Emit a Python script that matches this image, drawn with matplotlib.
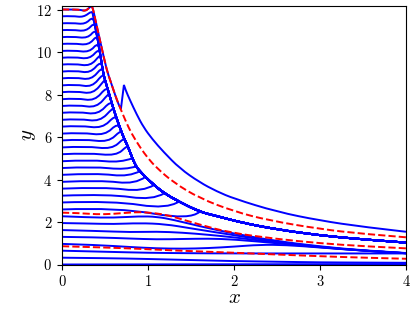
import numpy as np
import matplotlib.pyplot as plt
from matplotlib.path import Path
from matplotlib.patches import PathPatch

plt.rcParams['font.family'] = 'serif'
plt.rcParams['font.serif'] = ['cmr10']
plt.rcParams['mathtext.fontset'] = 'cm'
plt.rcParams['axes.formatter.use_mathtext'] = True

# envelope that the upper curves run into and then follow
env_x = [0.35, 0.36, 0.39, 0.42, 0.45, 0.48, 0.50, 0.55, 0.60, 0.65, 0.70, 0.73, 0.77,
         0.82, 0.85, 0.88, 0.97, 1.07, 1.19, 1.36, 1.60, 1.80, 2.10, 2.50, 3.00, 3.50, 4.00]
env_y = [12.0, 11.7, 11.1, 10.5, 9.75, 9.0, 8.68, 8.0, 7.3, 6.7, 6.15, 5.86, 5.52,
         4.98, 4.72, 4.5, 4.12, 3.74, 3.35, 2.96, 2.48, 2.28, 1.96, 1.65, 1.37, 1.18, 1.03]

# upper curves: start y0, small hump (x, dy), dip (x, dy), meeting point with envelope
upper = [
    # y0,   xh,   dyh,   xd,   dyd,   xj,    yj
    (11.68, 0.12, 0.02, 0.25, -0.05, 0.352, 11.95),
    (11.35, 0.12, 0.02, 0.27, -0.05, 0.361, 11.68),
    (11.03, 0.12, 0.02, 0.28, -0.06, 0.376, 11.38),
    (10.70, 0.12, 0.03, 0.30, -0.06, 0.391, 11.08),
    (10.38, 0.13, 0.03, 0.31, -0.06, 0.406, 10.78),
    (10.05, 0.13, 0.03, 0.32, -0.07, 0.421, 10.47),
    (9.73, 0.14, 0.04, 0.32, -0.07, 0.433, 10.17),
    (9.41, 0.14, 0.04, 0.33, -0.08, 0.445, 9.88),
    (9.08, 0.15, 0.05, 0.33, -0.08, 0.456, 9.60),
    (8.76, 0.15, 0.05, 0.34, -0.08, 0.468, 9.30),
    (8.43, 0.16, 0.05, 0.35, -0.09, 0.480, 9.00),
    (8.11, 0.16, 0.05, 0.36, -0.09, 0.499, 8.70),
    (7.78, 0.17, 0.05, 0.38, -0.09, 0.522, 8.38),
    (7.46, 0.18, 0.05, 0.40, -0.09, 0.546, 8.06),
    (7.14, 0.19, 0.05, 0.42, -0.09, 0.570, 7.72),
    (6.81, 0.20, 0.05, 0.44, -0.09, 0.594, 7.38),
    (6.49, 0.21, 0.05, 0.47, -0.09, 0.622, 7.04),
    (6.16, 0.23, 0.05, 0.50, -0.09, 0.652, 6.68),
    (5.84, 0.25, 0.06, 0.54, -0.09, 0.685, 6.32),
    (5.51, 0.28, 0.06, 0.58, -0.09, 0.721, 5.95),
    (5.19, 0.30, 0.06, 0.63, -0.08, 0.761, 5.60),
    (4.86, 0.33, 0.07, 0.68, -0.07, 0.818, 5.00),
    (4.54, 0.36, 0.07, 0.74, -0.09, 0.864, 4.62),
    (4.22, 0.40, 0.08, 0.78, -0.10, 0.910, 4.40),
    (3.89, 0.45, 0.08, 0.85, -0.12, 0.970, 4.12),
    (3.57, 0.50, 0.08, 0.94, -0.15, 1.070, 3.74),
    (3.24, 0.55, 0.08, 1.05, -0.22, 1.190, 3.35),
    (2.92, 0.60, 0.08, 1.22, -0.32, 1.360, 2.96),
    (2.59, 0.65, 0.10, 1.49, -0.50, 1.600, 2.48),
]
cusp_below = 5.0   # curves starting below this meet the envelope in a sharp cusp

# lower curves that never meet the envelope
lower_x = [
    [0, 4.0],
    [0, 0.5, 1.0, 1.5, 2.0, 2.5, 3.0, 3.5, 4.0],
    [0, 0.5, 1.0, 1.5, 2.0, 3.0, 4.0],
    [0, 0.4, 0.8, 1.1, 1.4, 1.7, 2.0, 2.3, 2.6, 3.0, 3.5, 4.0],
    [0, 0.4, 0.8, 1.1, 1.4, 1.7, 2.0, 2.5, 3.0, 3.5, 4.0],
    [0, 0.4, 0.8, 1.1, 1.4, 1.7, 2.0, 2.5, 3.0, 3.5, 4.0],
    [0, 0.3, 0.6, 0.9, 1.2, 1.5, 2.0, 2.5, 3.0, 3.5, 4.0],
    [0, 0.3, 0.6, 0.9, 1.1, 1.3, 1.6, 2.0, 2.5, 3.0, 3.5, 4.0],
]
lower_y = [
    [0.0, 0.02],
    [0.32, 0.30, 0.26, 0.21, 0.16, 0.13, 0.10, 0.09, 0.08],
    [0.65, 0.60, 0.55, 0.53, 0.52, 0.52, 0.52],
    [0.97, 0.92, 0.82, 0.76, 0.74, 0.77, 0.84, 0.93, 0.92, 0.80, 0.65, 0.53],
    [1.30, 1.28, 1.22, 1.18, 1.20, 1.22, 1.18, 1.00, 0.81, 0.65, 0.53],
    [1.62, 1.58, 1.52, 1.55, 1.50, 1.40, 1.28, 1.03, 0.82, 0.65, 0.53],
    [1.95, 1.93, 1.90, 1.95, 1.90, 1.70, 1.38, 1.06, 0.83, 0.65, 0.53],
    [2.27, 2.22, 2.20, 2.27, 2.25, 2.10, 1.80, 1.45, 1.10, 0.85, 0.66, 0.54],
]

# top curve: along the red curve down to the spike, then the outer branch
top_a_x = [0, 0.15, 0.22, 0.27, 0.31, 0.345, 0.365, 0.38, 0.45, 0.52, 0.56, 0.62, 0.66, 0.685]
top_a_y = [12.0, 12.0, 11.98, 11.93, 12.05, 12.2, 11.95, 11.66, 10.4, 9.15, 8.68, 7.95, 7.5, 7.32]
spike_x = [0.685, 0.72]
spike_y = [7.32, 8.45]
top_b_x = [0.72, 0.74, 0.79, 0.87, 0.95, 1.05, 1.18, 1.37, 1.6, 1.8, 2.0, 2.5, 3.0, 3.5, 4.0]
top_b_y = [8.45, 8.2, 7.74, 7.05, 6.45, 5.9, 5.3, 4.52, 3.87, 3.44, 3.1, 2.48, 2.07, 1.77, 1.54]

# red dashed curves
red1_x = [0, 0.15, 0.22, 0.27, 0.31, 0.345, 0.365, 0.38, 0.45, 0.52, 0.56, 0.62, 0.67, 0.74,
          0.81, 0.91, 1.0, 1.1, 1.3, 1.6, 2.0, 2.4, 3.0, 3.5, 4.0]
red1_y = [12.0, 12.0, 11.98, 11.93, 12.05, 12.2, 11.95, 11.66, 10.4, 9.15, 8.68, 7.95, 7.43, 6.75,
          6.15, 5.5, 5.0, 4.55, 3.85, 3.12, 2.5, 2.08, 1.67, 1.44, 1.28]
red2_x = [0, 0.2, 0.4, 0.6, 0.85, 1.0, 1.2, 1.4, 1.6, 1.95, 2.5, 3.0, 3.5, 4.0]
red2_y = [2.44, 2.42, 2.36, 2.38, 2.47, 2.45, 2.35, 2.12, 1.88, 1.50, 1.20, 1.00, 0.86, 0.76]
red3_x = [0, 0.5, 0.9, 1.3, 1.9, 2.5, 3.0, 3.5, 4.0]
red3_y = [0.86, 0.80, 0.74, 0.66, 0.57, 0.47, 0.39, 0.32, 0.27]


def curve(ax, segments, color='blue', ls='-', lw=1.4):
    # each segment is drawn as a smooth quadratic curve; segments meet at sharp corners
    verts, codes = [], []
    for si, (xs, ys) in enumerate(segments):
        pts = list(zip(xs, ys))
        if si == 0:
            verts.append(pts[0])
            codes.append(Path.MOVETO)
        n = len(pts)
        if n == 2:
            verts.append(pts[1])
            codes.append(Path.LINETO)
            continue
        for i in range(1, n - 1):
            if i < n - 2:
                end = ((pts[i][0] + pts[i + 1][0]) / 2, (pts[i][1] + pts[i + 1][1]) / 2)
            else:
                end = pts[n - 1]
            verts += [pts[i], end]
            codes += [Path.CURVE3, Path.CURVE3]
    ax.add_patch(PathPatch(Path(verts, codes), fc='none', ec=color, lw=lw, ls=ls))


fig = plt.figure(figsize=(4.15, 3.11), dpi=100)
ax = fig.add_axes([62 / 415, 1 - 264.5 / 311, 344 / 415, 258.5 / 311])

for xs, ys in zip(lower_x, lower_y):
    curve(ax, [(xs, ys)])

for y0, xh, dyh, xd, dyd, xj, yj in upper:
    tail_x = [xj] + [x for x in env_x if x > xj]
    tail_y = [yj] + [y for x, y in zip(env_x, env_y) if x > xj]
    if y0 < cusp_below:
        curve(ax, [([0, xh, xd, xj], [y0, y0 + dyh, y0 + dyd, yj]), (tail_x, tail_y)])
    else:
        curve(ax, [([0, xh, xd] + tail_x, [y0, y0 + dyh, y0 + dyd] + tail_y)])

curve(ax, [(top_a_x, top_a_y), (spike_x, spike_y), (top_b_x, top_b_y)])

curve(ax, [(red1_x, red1_y)], color='red', ls='--')
curve(ax, [(red2_x, red2_y)], color='red', ls='--')
curve(ax, [(red3_x, red3_y)], color='red', ls='--')

ax.set_xlim(0, 4)
ax.set_ylim(0, 12.165)
ax.set_xticks([0, 1, 2, 3, 4])
ax.set_yticks([0, 2, 4, 6, 8, 10, 12])
ax.tick_params(labelsize=10.5)
ax.set_xlabel('$x$', fontsize=15)
ax.set_ylabel('$y$', fontsize=15)
ax.xaxis.set_label_coords(0.5, -0.095)
ax.yaxis.set_label_coords(-0.07, 0.5)

fig.savefig('out.png', dpi=100)
